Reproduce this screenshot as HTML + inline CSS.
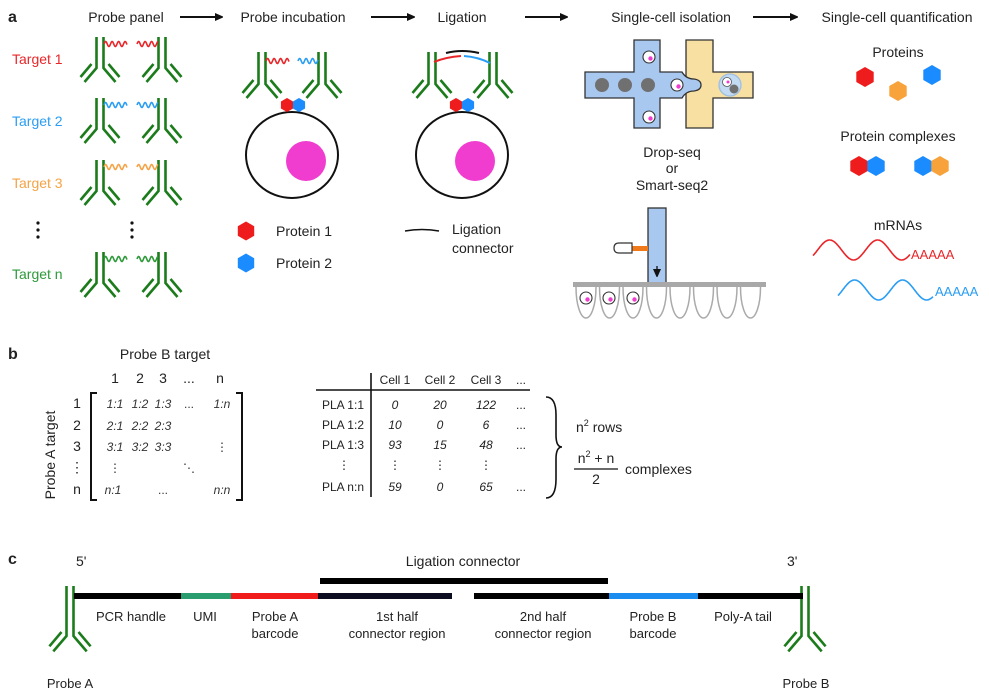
<!DOCTYPE html>
<html><head><meta charset="utf-8"><style>
html,body{margin:0;padding:0;background:#fff;}
svg{display:block;font-family:"Liberation Sans",Arial,sans-serif;}
</style></head><body>
<svg id="fig" width="989" height="696" viewBox="0 0 989 696" xmlns="http://www.w3.org/2000/svg">
<defs>
<marker id="ah" markerWidth="8" markerHeight="8" refX="7" refY="4" orient="auto" markerUnits="userSpaceOnUse"><path d="M0,0 L9,4 L0,8 Z" fill="#111"/></marker>
</defs>
<g font-size="14" fill="#222" text-anchor="middle">
<text x="8" y="22" font-weight="bold" font-size="16" text-anchor="start">a</text>
<text x="126" y="22">Probe panel</text>
<text x="293" y="22">Probe incubation</text>
<text x="462" y="22">Ligation</text>
<text x="671" y="22">Single-cell isolation</text>
<text x="897" y="22">Single-cell quantification</text>
</g>
<g stroke="#111" stroke-width="2">
<line x1="180" y1="17" x2="222" y2="17" marker-end="url(#ah)"/>
<line x1="371" y1="17" x2="414" y2="17" marker-end="url(#ah)"/>
<line x1="525" y1="17" x2="567" y2="17" marker-end="url(#ah)"/>
<line x1="753" y1="17" x2="797" y2="17" marker-end="url(#ah)"/>
</g>
<g font-size="14">
<text x="12" y="64" fill="#e8262a">Target 1</text>
<text x="12" y="126" fill="#2a9df4">Target 2</text>
<text x="12" y="188" fill="#f5a347">Target 3</text>
<text x="12" y="279" fill="#2e9a3a">Target n</text>
</g>
<g fill="#111">
<circle cx="38" cy="223" r="1.6"/><circle cx="38" cy="230" r="1.6"/><circle cx="38" cy="237" r="1.6"/>
<circle cx="132" cy="223" r="1.6"/><circle cx="132" cy="230" r="1.6"/><circle cx="132" cy="237" r="1.6"/>
</g>
<g id="antibodies" fill="none" stroke="#1c7c1c" stroke-width="2.6"></g>
<g id="waves" fill="none" stroke-width="1.6"></g>
<g>
<ellipse cx="292" cy="155" rx="46" ry="43" fill="none" stroke="#111" stroke-width="2"/>
<circle cx="306" cy="161" r="20" fill="#f03ccf"/>
</g>
<g>
<ellipse cx="462" cy="155" rx="46" ry="43" fill="none" stroke="#111" stroke-width="2"/>
<circle cx="475" cy="161" r="20" fill="#f03ccf"/>
</g>
<g id="hexes"></g>
<g fill="none" stroke-width="2">
<path d="M434,62 Q446,57 461,56" stroke="#e8262a"/>
<path d="M464,56 Q478,57 490,63" stroke="#2a9df4"/>
<path d="M446,53 Q462,49 479,53" stroke="#111"/>
</g>
<g font-size="14" fill="#222">
<text x="276" y="236">Protein 1</text>
<text x="276" y="268">Protein 2</text>
<path d="M405,231 Q422,228 439,231" stroke="#111" stroke-width="1.6" fill="none"/>
<text x="452" y="234">Ligation</text>
<text x="452" y="253">connector</text>
</g>
<g stroke="#333" stroke-width="1.3">
<path d="M686,40 H713 V72 H753 V98 H713 V128 H686 Z" fill="#f8dfa2"/>
<path d="M585,72 H634 V40 H660 V72 H682 Q686,79 694,79 Q701,80 701,85 Q701,90 694,91 Q686,91 682,98 H660 V128 H634 V98 H585 Z" fill="#a9c8ef"/>
<circle cx="602" cy="85" r="7" fill="#707070" stroke="none"/>
<circle cx="625" cy="85" r="7" fill="#707070" stroke="none"/>
<circle cx="648" cy="85" r="7" fill="#707070" stroke="none"/>
<circle cx="730" cy="85" r="11" fill="#c2daf2" stroke="#9fbfe0"/>
<circle cx="727" cy="82" r="4.5" fill="#fff" stroke="#555" stroke-width="0.8"/>
<circle cx="728" cy="82" r="1.5" fill="#f03ccf" stroke="none"/>
<circle cx="734" cy="89" r="4.5" fill="#707070" stroke="none"/>
</g>
<g id="cells"></g>
<g font-size="14" fill="#222" text-anchor="middle">
<text x="672" y="157">Drop-seq</text><text x="672" y="173">or</text><text x="672" y="190">Smart-seq2</text>
</g>
<g>
<rect x="648" y="208" width="18" height="75" fill="#a9c8ef" stroke="#333" stroke-width="1.3"/>
<rect x="632" y="246" width="16" height="5" fill="#f07a1a"/>
<path d="M632,243 H619 Q614,243 614,248 Q614,253 619,253 H632 Z" fill="#fff" stroke="#333" stroke-width="1.2"/>
<line x1="657" y1="266" x2="657" y2="276" stroke="#111" stroke-width="1.3" marker-end="url(#ah)"/>
<rect x="573" y="282" width="193" height="5" fill="#a8a8a8"/>
</g>
<g id="wells" fill="none" stroke="#aaa" stroke-width="1.5"></g>
<g font-size="14" fill="#222" text-anchor="middle">
<text x="898" y="57">Proteins</text>
<text x="898" y="141">Protein complexes</text>
<text x="898" y="230">mRNAs</text>
</g>
<g id="mrna" fill="none" stroke-width="1.6"></g>
<text x="911" y="259" font-size="13" fill="#e8262a">AAAAA</text>
<text x="935" y="296" font-size="13" fill="#2a9df4">AAAAA</text>

<g font-size="13" fill="#222" transform="translate(0,-5)">
<text x="8" y="364" font-weight="bold" font-size="16">b</text>
<text x="165" y="364" text-anchor="middle" font-size="14">Probe B target</text>
<g text-anchor="middle" font-size="14">
<text x="115" y="388">1</text><text x="140" y="388">2</text><text x="163" y="388">3</text><text x="189" y="388">...</text><text x="220" y="388">n</text>
<text x="77" y="413">1</text><text x="77" y="435">2</text><text x="77" y="456">3</text><text x="77" y="477">⋮</text><text x="77" y="499">n</text>
</g>
<text transform="translate(55,460) rotate(-90)" text-anchor="middle" font-size="14">Probe A target</text>
<path d="M97,398 H91 V505 H97 M236,398 H242 V505 H236" fill="none" stroke="#111" stroke-width="2"/>
<g font-style="italic" font-size="12" text-anchor="middle" fill="#333">
<text x="115" y="413">1:1</text><text x="140" y="413">1:2</text><text x="163" y="413">1:3</text><text x="189" y="413" font-style="normal">...</text><text x="222" y="413">1:n</text>
<text x="115" y="435">2:1</text><text x="140" y="435">2:2</text><text x="163" y="435">2:3</text>
<text x="115" y="456">3:1</text><text x="140" y="456">3:2</text><text x="163" y="456">3:3</text><text x="222" y="456" font-style="normal">⋮</text>
<text x="115" y="477" font-style="normal">⋮</text><text x="189" y="477" font-style="normal">⋱</text>
<text x="113" y="499">n:1</text><text x="163" y="499" font-style="normal">...</text><text x="222" y="499">n:n</text>
</g>
<line x1="316" y1="395" x2="530" y2="395" stroke="#111" stroke-width="1.6"/>
<line x1="371" y1="378" x2="371" y2="502" stroke="#111" stroke-width="1.6"/>
<g font-size="12" text-anchor="middle">
<text x="395" y="389">Cell 1</text><text x="440" y="389">Cell 2</text><text x="486" y="389">Cell 3</text><text x="521" y="389">...</text>
</g>
<g font-size="12" text-anchor="end">
<text x="364" y="414">PLA 1:1</text><text x="364" y="434">PLA 1:2</text><text x="364" y="454">PLA 1:3</text><text x="350" y="474">⋮</text><text x="364" y="496">PLA n:n</text>
</g>
<g id="tbl" font-size="12" text-anchor="middle" font-style="italic"></g>
<path d="M546,402 Q556,402 556,420 V440 Q556,452 562,452 Q556,452 556,464 V484 Q556,503 546,503" fill="none" stroke="#111" stroke-width="1.6"/>
<text x="576" y="437" font-size="14">n<tspan font-size="9" dy="-6">2</tspan><tspan dy="6"> rows</tspan></text>
<text x="596" y="468" font-size="14" text-anchor="middle">n<tspan font-size="9" dy="-6">2</tspan><tspan dy="6"> + n</tspan></text>
<line x1="574" y1="474" x2="618" y2="474" stroke="#111" stroke-width="1.3"/>
<text x="596" y="489" font-size="14" text-anchor="middle">2</text>
<text x="625" y="479" font-size="14">complexes</text>
</g>

<g font-size="13" fill="#222">
<text x="8" y="564" font-weight="bold" font-size="16">c</text>
<text x="76" y="566" font-size="14">5'</text>
<text x="787" y="566" font-size="14">3'</text>
<text x="463" y="566" text-anchor="middle" font-size="14">Ligation connector</text>
<rect x="320" y="578" width="288" height="6" fill="#000"/>
<rect x="74" y="593" width="107" height="6" fill="#000"/>
<rect x="181" y="593" width="50" height="6" fill="#2a9d6f"/>
<rect x="231" y="593" width="87" height="6" fill="#f01c1c"/>
<rect x="318" y="593" width="134" height="6" fill="#0d0d22"/>
<rect x="474" y="593" width="135" height="6" fill="#000"/>
<rect x="609" y="593" width="89" height="6" fill="#1a8cf0"/>
<rect x="698" y="593" width="105" height="6" fill="#000"/>
<g text-anchor="middle" font-size="13">
<text x="131" y="621">PCR handle</text>
<text x="205" y="621">UMI</text>
<text x="275" y="621">Probe A</text><text x="275" y="638">barcode</text>
<text x="397" y="621">1st half</text><text x="397" y="638">connector region</text>
<text x="543" y="621">2nd half</text><text x="543" y="638">connector region</text>
<text x="653" y="621">Probe B</text><text x="653" y="638">barcode</text>
<text x="743" y="621">Poly-A tail</text>
<text x="70" y="688">Probe A</text>
<text x="806" y="688">Probe B</text>
</g>
</g>
</svg>
<script>
var NS='http://www.w3.org/2000/svg';
function mk(parent,tag,attrs){var e=document.createElementNS(NS,tag);for(var k in attrs)e.setAttribute(k,attrs[k]);document.getElementById(parent).appendChild(e);return e;}
function abPath(x,y,L,s){
 return 'M'+(x-3.5)+','+y+'V'+(y+L)+'L'+(x-3.5-12*s)+','+(y+L+14*s)+
 'M'+(x+3.5)+','+y+'V'+(y+L)+'L'+(x+3.5+12*s)+','+(y+L+14*s)+
 'M'+(x-8.5)+','+(y+L-4)+'L'+(x-8.5-11*s)+','+(y+L-4+13*s)+
 'M'+(x+8.5)+','+(y+L-4)+'L'+(x+8.5+11*s)+','+(y+L-4+13*s);
}
var abs=[[100,37,31,1],[162,37,31,1],[100,98,31,1],[162,98,31,1],[100,160,31,1],[162,160,31,1],[100,252,31,1],[162,252,31,1],
[262,52,32,1],[322,52,32,1],[432,52,32,1],[493,52,32,1],[70,586,50,1.1],[805,586,50,1.1]];
abs.forEach(function(a){
 var e=mk('antibodies','path',{d:abPath(a[0],a[1],a[2],a[3])});
 
 
});
function wave(x0,x1,y,amp,wl,ph){var d='';for(var x=x0;x<=x1;x+=0.5){var yy=y-amp*Math.sin(2*Math.PI*(x-x0)/wl+(ph||0));d+=(d?'L':'M')+x.toFixed(1)+','+yy.toFixed(1);}return d;}
var wv=[[104,127,44,'#e8262a'],[137,158,44,'#e8262a'],[104,127,105,'#2a9df4'],[137,158,105,'#2a9df4'],[104,127,167,'#f5a347'],[137,158,167,'#f5a347'],[104,127,259,'#2e9a3a'],[137,158,259,'#2e9a3a'],[266,289,61,'#e8262a'],[298,318,61,'#2a9df4']];
wv.forEach(function(w){
 var e=mk('waves','path',{d:wave(w[0],w[1],w[2],2.5,6.5),stroke:w[3]});
 
 
});
var m1=mk('mrna','path',{d:wave(813,910,250,10,48,-0.6),stroke:'#e8262a'});


var m2=mk('mrna','path',{d:wave(838,933,290,10,48,-0.6),stroke:'#2a9df4'});


function hex(cx,cy,r){var p=[];for(var i=0;i<6;i++){var a=Math.PI/180*(60*i-90);p.push((cx+r*Math.cos(a)).toFixed(1)+','+(cy+r*Math.sin(a)).toFixed(1));}return p.join(' ');}
var R='#ee1c1c',B='#1a8cff',O='#f7a23a';
var hx=[[287,105,7,R],[299,105,7,B],[456,105,7,R],[468,105,7,B],[246,231,9.5,R],[246,263,9.5,B],
[865,77,10,R],[898,91,10,O],[932,75,10,B],[859,166,10,R],[876,166,10,B],[923,166,10,B],[940,166,10,O]];
hx.forEach(function(h){
 var e=mk('hexes','polygon',{points:hex(h[0],h[1],h[2]),fill:h[3]});
 
 
});
var cl=[[649,57],[677,85],[649,117],[657,223],[657,248],[586,298],[609,298],[633,298]];
cl.forEach(function(c){
 var g=mk('cells','circle',{cx:c[0],cy:c[1],r:6,fill:'#fff',stroke:'#333','stroke-width':1.1});
 
 
 var d=mk('cells','circle',{cx:c[0]+1.5,cy:c[1]+1.5,r:2.2,fill:'#f03ccf'});
 
 
});
for(var i=0;i<8;i++){var x=576+i*23.5;
 var w=mk('wells','path',{d:'M'+x+',287 C'+x+',306 '+(x+5)+',318 '+(x+10)+',318 C'+(x+15)+',318 '+(x+20)+',306 '+(x+20)+',287'});
 
 
}
var colX=[395,440,486,521];
var rowsY=[414,434,454,474,496];
var vals=[['0','20','122','...'],['10','0','6','...'],['93','15','48','...'],['⋮','⋮','⋮',''],['59','0','65','...']];
vals.forEach(function(r,ri){r.forEach(function(v,ci){
 var t=mk('tbl','text',{x:colX[ci],y:rowsY[ri]});
 if(v==='...'||v==='⋮')t.setAttribute('font-style','normal');
 t.textContent=v;
 
 
});});
</script>
</body></html>
